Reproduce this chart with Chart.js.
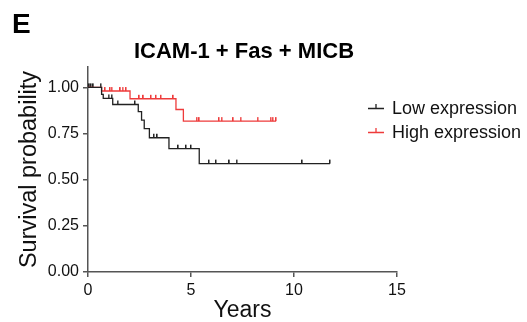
<!DOCTYPE html>
<html>
<head>
<meta charset="utf-8">
<script src="https://cdn.jsdelivr.net/npm/chart.js@4"></script>
<style>
html, body { margin: 0; padding: 0; background: #fff; }
#wrap { width: 527px; height: 322px; }
</style>
</head>
<body>
<div id="wrap"><canvas id="myChart"></canvas></div>
<script>
let lowTimes = [0, 0.66, 0.74, 1.2, 2.44, 2.6, 2.73, 2.98, 3.93, 5.4, 11.75];
let lowSurv = [1, 0.962, 0.94, 0.907, 0.868, 0.822, 0.776, 0.727, 0.668, 0.587, 0.587];
let lowCensor = [0.07, 0.15, 0.26, 0.62, 1.0, 1.15, 1.44, 2.28, 3.2, 3.36, 4.38, 4.76, 5.0,
    5.87, 6.21, 6.86, 7.22, 10.4, 11.75];

let highTimes = [0, 0.66, 2.04, 4.27, 4.63, 9.13];
let highSurv = [1, 0.98, 0.938, 0.88, 0.817, 0.817];
let highCensor = [0.83, 1.07, 1.15, 1.57, 1.68, 1.85, 2.49, 2.69, 3.06, 3.3, 3.54, 4.14,
    5.28, 5.4, 6.36, 6.49, 7.05, 7.41, 8.24, 8.87, 8.97, 9.13];

let xTicks = [0, 5, 10, 15];
let yTicks = [0, 0.25, 0.5, 0.75, 1];

let lowColor = '#222222';
let highColor = '#ee3b3b';
let font = 'Liberation Sans, Arial, sans-serif';

// survival value at time t
function survAt(times, surv, t) {
    let s = surv[0];
    for (let i = 0; i < times.length; i++) {
        if (times[i] <= t) s = surv[i];
    }
    return s;
}

function tickMark(color) {
    let c = document.createElement('canvas');
    c.width = 2;
    c.height = 10;
    let g = c.getContext('2d');
    g.fillStyle = color;
    g.fillRect(0, 1, 1.5, 4);
    return c;
}

let extras = {
    id: 'extras',
    afterDraw(chart) {
        let ctx = chart.ctx;
        ctx.save();
        ctx.fillStyle = '#000';
        ctx.textBaseline = 'alphabetic';
        ctx.textAlign = 'left';
        ctx.font = 'bold 28px ' + font;
        ctx.fillText('E', 12, 33);
        ctx.textAlign = 'center';
        ctx.font = 'bold 22px ' + font;
        ctx.fillText('ICAM-1 + Fas + MICB', 244, 58);

        let items = [['Low expression', lowColor, 108], ['High expression', highColor, 132]];
        ctx.textAlign = 'left';
        ctx.textBaseline = 'middle';
        ctx.font = '18px ' + font;
        items.forEach(function (it) {
            ctx.strokeStyle = it[1];
            ctx.lineWidth = 1.3;
            ctx.beginPath();
            ctx.moveTo(368, it[2] + 0.5);
            ctx.lineTo(384, it[2] + 0.5);
            ctx.moveTo(376, it[2] - 4);
            ctx.lineTo(376, it[2] + 0.5);
            ctx.stroke();
            ctx.fillStyle = '#111';
            ctx.fillText(it[0], 392, it[2] + 1);
        });
        ctx.restore();
    }
};

let myChart = document.getElementById('myChart').getContext('2d');

let chart = new Chart(myChart, {
    type: 'line',
    data: {
        datasets: [{
            data: lowTimes.map((t, i) => ({x: t, y: lowSurv[i]})),
            borderColor: lowColor,
            borderWidth: 1.3,
            stepped: true,
            pointRadius: 0
        }, {
            data: highTimes.map((t, i) => ({x: t, y: highSurv[i]})),
            borderColor: highColor,
            borderWidth: 1.3,
            stepped: true,
            pointRadius: 0
        }, {
            data: lowCensor.map(t => ({x: t, y: survAt(lowTimes, lowSurv, t)})),
            showLine: false,
            pointStyle: tickMark(lowColor),
            pointRadius: 4
        }, {
            data: highCensor.map(t => ({x: t, y: survAt(highTimes, highSurv, t)})),
            showLine: false,
            pointStyle: tickMark(highColor),
            pointRadius: 4
        }]
    },
    options: {
        responsive: true,
        maintainAspectRatio: false,
        animation: false,
        layout: {
            padding: {top: 67, right: 130, left: 0, bottom: 0}
        },
        plugins: {
            legend: {display: false},
            tooltip: {enabled: false}
        },
        scales: {
            x: {
                type: 'linear',
                min: 0,
                max: 15,
                afterBuildTicks: function (scale) {
                    scale.ticks = xTicks.map(v => ({value: v}));
                },
                afterFit: function (scale) {
                    scale.height = 50;
                },
                grid: {drawOnChartArea: false, tickLength: 5, color: '#555', lineWidth: 1.5},
                border: {color: '#555', width: 1.5},
                ticks: {color: '#111', font: {family: font, size: 16}, padding: 4, maxRotation: 0},
                title: {
                    display: true,
                    text: 'Years',
                    color: '#111',
                    font: {family: font, size: 23, lineHeight: 1.0},
                    padding: {top: 0, bottom: 0}
                }
            },
            y: {
                type: 'linear',
                min: 0,
                max: 1.11,
                afterBuildTicks: function (scale) {
                    scale.ticks = yTicks.map(v => ({value: v}));
                },
                afterFit: function (scale) {
                    scale.width = 88;
                },
                grid: {drawOnChartArea: false, tickLength: 5, color: '#555', lineWidth: 1.5},
                border: {color: '#555', width: 1.5},
                ticks: {
                    color: '#111',
                    font: {family: font, size: 16},
                    padding: 4,
                    callback: v => v.toFixed(2)
                },
                title: {
                    display: true,
                    text: 'Survival probability',
                    color: '#111',
                    font: {family: font, size: 23.5},
                    padding: {top: 15, bottom: 0}
                }
            }
        }
    },
    plugins: [extras]
});
</script>
</body>
</html>
